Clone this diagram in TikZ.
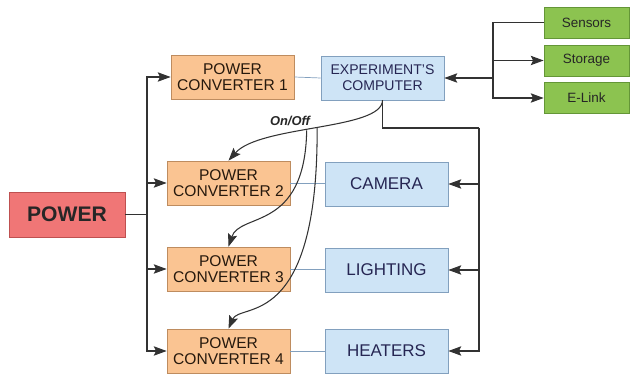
\documentclass[tikz,border=0pt]{standalone}
\usepackage{fontspec}
\setmainfont{Liberation Sans}
\usetikzlibrary{positioning, arrows.meta, calc}
\definecolor{pwrred}{RGB}{240,118,118}
\definecolor{pwrredline}{RGB}{190,80,80}
\definecolor{convorange}{RGB}{250,196,146}
\definecolor{convline}{RGB}{190,140,95}
\definecolor{devblue}{RGB}{206,228,246}
\definecolor{devline}{RGB}{130,160,190}
\definecolor{iogreen}{RGB}{140,195,80}
\definecolor{ioline}{RGB}{100,150,55}
\definecolor{darkgrey}{RGB}{50,50,50}
\tikzset{
    powerbox/.style={rectangle, draw=pwrredline, fill=pwrred, minimum width=3.48cm, minimum height=1.35cm, align=center, font=\fontsize{18}{20}\selectfont\bfseries, text=black!85, line width=0.6pt},
    convbox/.style={rectangle, draw=convline, fill=convorange, minimum width=3.69cm, minimum height=1.32cm, align=center, font=\fontsize{13.3}{14}\selectfont, text=black!80!brown, line width=0.6pt},
    devbox/.style={rectangle, draw=devline, fill=devblue, minimum width=3.69cm, minimum height=1.32cm, align=center, font=\fontsize{14.5}{14}\selectfont, text=black!75!blue!70!gray, line width=0.6pt},
    compbox/.style={devbox, font=\fontsize{12}{13.5}\selectfont},
    iobox/.style={rectangle, draw=ioline, fill=iogreen, minimum width=2.55cm, minimum height=0.93cm, align=center, font=\fontsize{11.5}{12}\selectfont, text=black!85, line width=0.6pt},
    wire/.style={line width=0.9pt, color=darkgrey},
    arr/.style={-{Stealth[length=11pt, width=8pt, inset=2pt]}, line width=0.9pt, color=darkgrey},
    link/.style={line width=0.6pt, color=devline},
    onofflbl/.style={font=\fontsize{11}{12}\selectfont\bfseries\itshape, text=black!85}
}

\begin{document}
\begin{tikzpicture}[x=0.03cm, y=-0.03cm]
    \useasboundingbox (0,0) rectangle (630,374);

    % === Power source and converters ===
    \node[powerbox] (power) at (67,214.5) {POWER};
    \node[convbox] (pc1) at (232.5,77) {POWER\\CONVERTER 1};
    \node[convbox] (pc2) at (228.5,183) {POWER\\CONVERTER 2};
    \node[convbox] (pc3) at (228.5,269) {POWER\\CONVERTER 3};
    \node[convbox] (pc4) at (228.5,351) {POWER\\CONVERTER 4};

    % === Loads ===
    \node[compbox] (comp) at (382.5,78) {EXPERIMENT'S\\COMPUTER};
    \node[devbox] (cam) at (386.5,184) {CAMERA};
    \node[devbox] (light) at (386.5,270) {LIGHTING};
    \node[devbox] (heat) at (386.5,351) {HEATERS};

    % === Computer peripherals ===
    \node[iobox] (sens) at (586.5,22.5) {Sensors};
    \node[iobox] (stor) at (586.5,60.5) {Storage};
    \node[iobox] (elink) at (586.5,98) {E-Link};

    % power bus
    \coordinate (pbus) at (147,214.5);
    \draw[wire] (power.east) -- (pbus);
    \draw[arr] (pbus) |- (pc1.west);
    \draw[arr] (pbus) |- (pc2.west);
    \draw[arr] (pbus) |- (pc3.west);
    \draw[arr] (pbus) |- (pc4.west);

    % supply links
    \draw[link] (pc1.east) -- (comp.west);
    \draw[link] (pc2.east) -- (pc2.east -| cam.west);
    \draw[link] (pc3.east) -- (pc3.east -| light.west);
    \draw[link] (pc4.east) -- (pc4.east -| heat.west);

    % peripheral bus
    \coordinate (rbus) at (493,78);
    \draw[arr] (rbus) -- (comp.east);
    \draw[wire] (rbus) |- (sens.west);
    \draw[arr] (rbus) |- (stor.west);
    \draw[arr] (rbus) |- (elink.west);

    % control bus
    \coordinate (cbus) at (479,128);
    \draw[wire] (comp.south) |- (cbus);
    \draw[arr] (cbus) |- (cam.east);
    \draw[arr] (cbus) |- (light.east);
    \draw[arr] (cbus) |- (heat.east);

    % On/Off lines
    \draw[arr] (comp.south) .. controls (382,130) and (260,125) .. (pc2.north)
        coordinate[pos=0.5] (sw2) coordinate[pos=0.55] (sw1);
    \draw[arr] (sw1) .. controls (305,232) and (240,212) .. (pc3.north);
    \draw[arr] (sw2) .. controls (318,332) and (240,302) .. (pc4.north);
    \node[onofflbl] (onoff) at (290,121) {On/Off};
\end{tikzpicture}
\end{document}
